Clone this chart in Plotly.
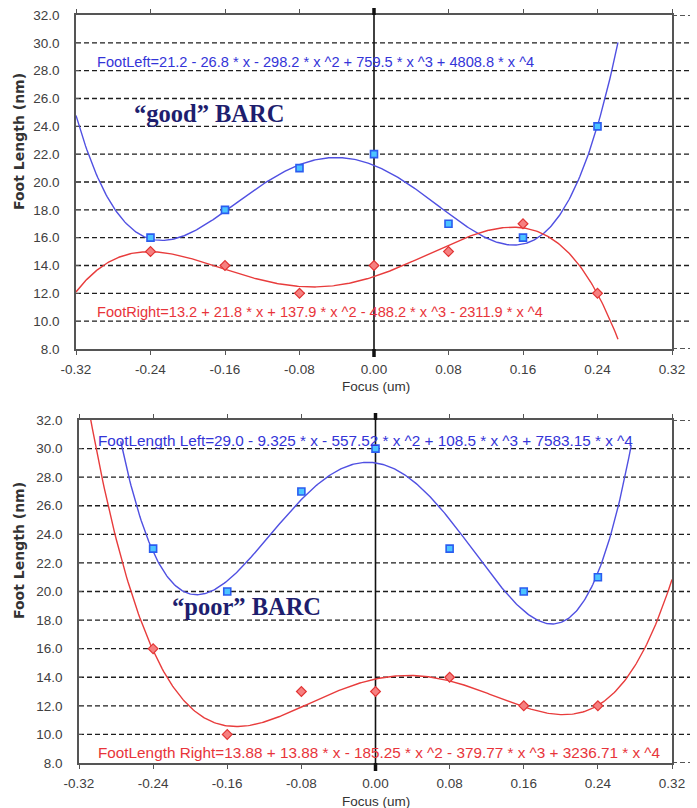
import numpy as np
import plotly.graph_objects as go

# ---------------- data ----------------
focus = [-0.24, -0.16, -0.08, 0.00, 0.08, 0.16, 0.24]

good_left = [16, 18, 21, 22, 17, 16, 24]
good_right = [15, 14, 12, 14, 15, 17, 12]
poor_left = [23, 20, 27, 30, 23, 20, 21]
poor_right = [16, 10, 13, 13, 14, 12, 12]

# polynomial fit coefficients, c0 + c1*x + c2*x^2 + c3*x^3 + c4*x^4
good_left_coef = [21.2, -26.8, -298.2, 759.5, 4808.8]
good_right_coef = [13.2, 21.8, 137.9, -488.2, -2311.9]
poor_left_coef = [29.0, -9.325, -557.52, 108.5, 7583.15]
poor_right_coef = [13.88, 13.88, -185.25, -379.77, 3236.71]

# focus span over which each fitted curve is drawn
good_left_span = (-0.32, 0.262)
good_right_span = (-0.32, 0.262)
poor_left_span = (-0.275, 0.276)
poor_right_span = (-0.32, 0.32)

good_left_eq = "FootLeft=21.2 - 26.8 * x - 298.2 * x ^2 + 759.5 * x ^3 + 4808.8 * x ^4"
good_right_eq = "FootRight=13.2 + 21.8 * x + 137.9 * x ^2 - 488.2 * x ^3 - 2311.9 * x ^4"
poor_left_eq = "FootLength Left=29.0 - 9.325 * x - 557.52 * x ^2 + 108.5 * x ^3 + 7583.15 * x ^4"
poor_right_eq = "FootLength Right=13.88 + 13.88 * x - 185.25 * x ^2 - 379.77 * x ^3 + 3236.71 * x ^4"

x_tickvals = [-0.32, -0.24, -0.16, -0.08, 0.00, 0.08, 0.16, 0.24, 0.32]
x_ticktext = ["-0.32", "-0.24", "-0.16", "-0.08", "0.00", "0.08", "0.16", "0.24", "0.32"]
y_tickvals = [8, 10, 12, 14, 16, 18, 20, 22, 24, 26, 28, 30, 32]
y_ticktext = ["8.0", "10.0", "12.0", "14.0", "16.0", "18.0", "20.0", "22.0",
              "24.0", "26.0", "28.0", "30.0", "32.0"]

# ---------------- layout helpers ----------------
W, H = 697, 808


def px_x(p):
    return p / W


def px_y(p):
    return 1 - p / H


BLUE_LINE = "#5050e2"
RED_LINE = "#e83c3c"
BLUE_TEXT = "#3434d8"
RED_TEXT = "#e8343a"
NAVY = "#1e1e6e"
FRAME = "#555555"
TICK_FONT = dict(family="Liberation Sans, Arial, sans-serif", size=13.5, color="#404040")


def poly(coef, x):
    return sum(c * x ** i for i, c in enumerate(coef))


panels = [
    dict(xa="x", ya="y", left=good_left, right=good_right,
         lc=good_left_coef, rc=good_right_coef, ls=good_left_span, rs=good_right_span,
         leq=good_left_eq, req=good_right_eq, label="\u201cgood\u201d BARC",
         px_left=76, px_right=672, px_top=15, px_bot=349,
         leq_y=62, req_y=312, eq_x=95, eq_size=14.6, label_xy=(209, 113),
         ytitle_y=142, xtitle_y=386),
    dict(xa="x2", ya="y2", left=poor_left, right=poor_right,
         lc=poor_left_coef, rc=poor_right_coef, ls=poor_left_span, rs=poor_right_span,
         leq=poor_left_eq, req=poor_right_eq, label="\u201cpoor\u201d BARC",
         px_left=79, px_right=672, px_top=420, px_bot=763,
         leq_y=440, req_y=752, eq_x=96, eq_size=15.3, label_xy=(246, 606),
         ytitle_y=551, xtitle_y=801),
]

fig = go.Figure()
shapes = []
annotations = []
layout_axes = {}

for i, p in enumerate(panels):
    xa, ya = p["xa"], p["ya"]

    # fitted curves
    for coef, span, color in ((p["lc"], p["ls"], BLUE_LINE), (p["rc"], p["rs"], RED_LINE)):
        xs = np.linspace(span[0], span[1], 400)
        fig.add_trace(go.Scatter(x=xs, y=poly(coef, xs), mode="lines",
                                 line=dict(color=color, width=1.4),
                                 xaxis=xa, yaxis=ya, showlegend=False, hoverinfo="skip"))

    # measured points
    fig.add_trace(go.Scatter(x=focus, y=p["left"], mode="markers",
                             marker=dict(symbol="square", size=7, color="#4cc4ff",
                                         line=dict(color="#2a5cf0", width=1.6)),
                             xaxis=xa, yaxis=ya, showlegend=False, cliponaxis=False))
    fig.add_trace(go.Scatter(x=focus, y=p["right"], mode="markers",
                             marker=dict(symbol="diamond", size=7.5, color="#f68080",
                                         line=dict(color="#e23434", width=1.2)),
                             xaxis=xa, yaxis=ya, showlegend=False, cliponaxis=False))

    sfx = "" if i == 0 else "2"
    layout_axes["xaxis" + sfx] = dict(
        domain=[px_x(p["px_left"]), px_x(p["px_right"])], range=[-0.32, 0.32],
        anchor=ya, tickvals=x_tickvals, ticktext=x_ticktext, tickfont=TICK_FONT,
        showgrid=False, zeroline=False, showline=True, linecolor=FRAME, linewidth=1.6,
        mirror="ticks", ticks="outside", ticklen=4, tickcolor=FRAME, tickwidth=1.2,
        ticklabelstandoff=3, automargin=False,
    )
    layout_axes["yaxis" + sfx] = dict(
        domain=[px_y(p["px_bot"]), px_y(p["px_top"])], range=[8, 32],
        anchor=xa, tickvals=y_tickvals, ticktext=y_ticktext, tickfont=TICK_FONT,
        showgrid=False, zeroline=False, showline=True, linecolor=FRAME, linewidth=1.6,
        mirror=True, ticks="inside", ticklen=3, tickcolor=FRAME,
        ticklabelstandoff=12, automargin=False,
    )

    # dashed horizontal grid, running a little past the right frame
    x_end = px_x(690)
    x_r = px_x(p["px_right"])
    x_l = px_x(p["px_left"])
    for v in y_tickvals:
        x0 = x_r if v in (8, 32) else x_l
        shapes.append(dict(type="line", xref="paper", yref=ya, x0=x0, x1=x_end, y0=v, y1=v,
                           line=dict(color="#1e1e1e", width=1.4, dash="5px,3px"), layer="below"))

    # focus = 0 reference line with heavy end ticks
    shapes.append(dict(type="line", xref=xa, yref=ya, x0=0, x1=0, y0=8, y1=32,
                       line=dict(color="#111111", width=1.6), layer="below"))
    for yy0, yy1 in ((px_y(p["px_top"] - 7), px_y(p["px_top"])),
                     (px_y(p["px_bot"]), px_y(p["px_bot"] + 8))):
        shapes.append(dict(type="line", xref=xa, yref="paper", x0=0, x1=0, y0=yy0, y1=yy1,
                           line=dict(color="#111111", width=3.5)))

    # fit equations
    annotations.append(dict(text=p["leq"], xref="paper", yref="paper",
                            x=px_x(p["eq_x"]), y=px_y(p["leq_y"]), xanchor="left", yanchor="middle",
                            showarrow=False,
                            font=dict(family="Liberation Sans, Arial, sans-serif", size=p["eq_size"],
                                      color=BLUE_TEXT)))
    annotations.append(dict(text=p["req"], xref="paper", yref="paper",
                            x=px_x(p["eq_x"]), y=px_y(p["req_y"]), xanchor="left", yanchor="middle",
                            showarrow=False,
                            font=dict(family="Liberation Sans, Arial, sans-serif", size=p["eq_size"],
                                      color=RED_TEXT)))
    # panel label
    annotations.append(dict(text="<b>" + p["label"] + "</b>", xref="paper", yref="paper",
                            x=px_x(p["label_xy"][0]), y=px_y(p["label_xy"][1]),
                            xanchor="center", yanchor="middle", showarrow=False,
                            font=dict(family="Liberation Serif, Times New Roman, serif", size=24.5, color=NAVY)))
    # axis titles
    annotations.append(dict(text="<b>Foot Length (nm)</b>", xref="paper", yref="paper",
                            x=px_x(19), y=px_y(p["ytitle_y"]), textangle=-90,
                            xanchor="center", yanchor="middle", showarrow=False,
                            font=dict(family="DejaVu Sans, Verdana, sans-serif", size=14, color="#333333")))
    annotations.append(dict(text="Focus (um)", xref="paper", yref="paper",
                            x=px_x(376), y=px_y(p["xtitle_y"]),
                            xanchor="center", yanchor="middle", showarrow=False,
                            font=dict(family="Liberation Sans, Arial, sans-serif", size=13.5, color="#333333")))

fig.update_layout(
    width=W, height=H, margin=dict(l=0, r=0, t=0, b=0, autoexpand=False),
    paper_bgcolor="white", plot_bgcolor="white",
    shapes=shapes, annotations=annotations, showlegend=False,
    **layout_axes,
)

fig.write_html("out.html")
